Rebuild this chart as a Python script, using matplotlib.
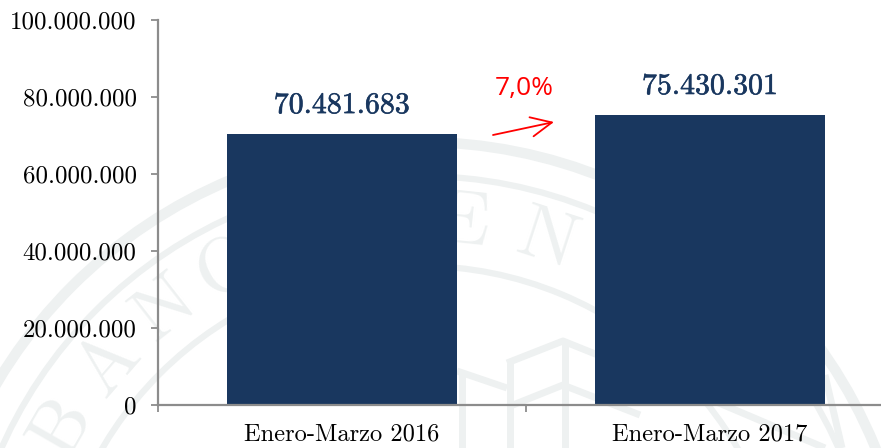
import matplotlib
matplotlib.use('Agg')

import numpy as np
import matplotlib.pyplot as plt
import matplotlib.patheffects as pe
from matplotlib.patches import Arc

categories = ['Enero-Marzo 2016', 'Enero-Marzo 2017']
values = [70481683, 75430301]
value_labels = ['70.481.683', '75.430.301']
y_ticks = [0, 20000000, 40000000, 60000000, 80000000, 100000000]
y_tick_labels = ['0', '20.000.000', '40.000.000', '60.000.000', '80.000.000', '100.000.000']
change_label = '7,0%'

navy = '#19375f'
grey = '#8c8c8c'
mark = '#eef1f1'
W, H = 881, 448

plt.rcParams['font.family'] = ['cmr10', 'DejaVu Serif']
plt.rcParams['axes.unicode_minus'] = False
plt.rcParams['axes.formatter.use_mathtext'] = True

fig = plt.figure(figsize=(W / 100, H / 100), dpi=100, facecolor='white')

# watermark seal, in pixel coordinates
bg = fig.add_axes([0, 0, 1, 1], zorder=0)
bg.set_xlim(0, W)
bg.set_ylim(H, 0)
bg.axis('off')
cx, cy = 420, 634
for r, lw in [(492, 7.5), (458, 4.5), (368, 4.5)]:
    bg.add_patch(Arc((cx, cy), 2 * r, 2 * r, color=mark, lw=lw))
seal_text = 'BANCOCENTRA'
seal_angles = [-60, -49, -38, -28, -17, -5, 6, 18, 29, 40, 51]
for ch, a in zip(seal_text, seal_angles):
    t = np.radians(a)
    bg.text(cx + 412 * np.sin(t), cy - 412 * np.cos(t), ch, color=mark, fontsize=56,
            rotation=-a, ha='center', va='center', clip_on=True)
# building outline
for xs, ys in [([457, 507], [371, 388]),
               ([507, 563, 640], [363, 341, 372]),
               ([513, 563, 640], [405, 385, 415]),
               ([510, 510], [363, 448]),
               ([565, 565], [341, 448]),
               ([462, 462], [372, 448]),
               ([825, 842], [375, 448]),
               ([700, 825], [395, 448])]:
    bg.plot(xs, ys, color=mark, lw=5, solid_capstyle='butt')

ax = fig.add_axes([157.5 / W, 1 - 405 / H, (W - 157.5) / W, 385 / H], zorder=1)
ax.patch.set_alpha(0)

x = np.arange(len(categories))
ax.bar(x, values, width=0.625, color=navy)
ax.set_xlim(-0.5, 1.4647)
ax.set_ylim(0, 100000000)

for i, label in enumerate(value_labels):
    ax.annotate(label, (x[i], values[i]), xytext=(0, 10.5), textcoords='offset points',
                ha='center', va='bottom', color=navy, fontsize=21.5,
                path_effects=[pe.withStroke(linewidth=0.4, foreground=navy)])

ax.set_yticks(y_ticks)
ax.set_yticklabels(y_tick_labels, fontsize=17.9, color='black')
ax.set_xticks(x)
ax.set_xticklabels(categories, fontsize=17.6, color='black')
ax.set_xticks([-0.5, 0.5], minor=True)
ax.tick_params(axis='x', which='major', length=0, pad=13)
ax.tick_params(axis='x', which='minor', direction='out', length=5, width=1.3, color=grey)
ax.tick_params(axis='y', direction='out', length=5, width=1.3, color=grey, pad=10)
for s in ['top', 'right']:
    ax.spines[s].set_visible(False)
for s in ['left', 'bottom']:
    ax.spines[s].set_color(grey)
    ax.spines[s].set_linewidth(1.6)

# growth note between the bars
fig.text(524.5 / W, 1 - 89 / H, change_label, color='#ff0000', fontsize=19,
         family='Open Sans', ha='center', va='center')
ax.annotate('', xy=(554 / W, 1 - 122 / H), xytext=(493 / W, 1 - 135 / H),
            xycoords='figure fraction', textcoords='figure fraction',
            arrowprops=dict(arrowstyle='->,head_length=1.5,head_width=0.7', color='#ff0000',
                            lw=1.3, shrinkA=0, shrinkB=0))

fig.savefig('out.png', dpi=100)
plt.close()
